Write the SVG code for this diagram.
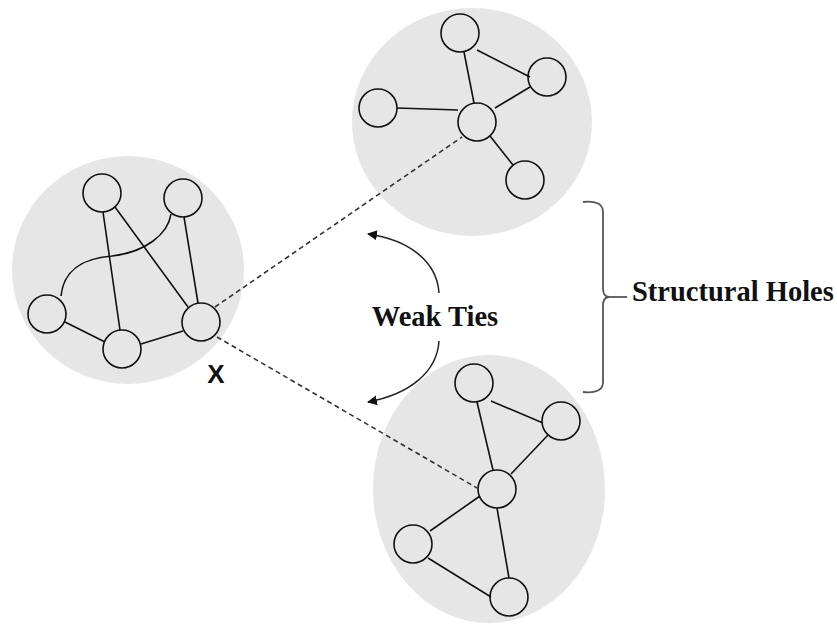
<svg xmlns="http://www.w3.org/2000/svg" width="837" height="625" viewBox="0 0 837 625">
<defs>
<style>
.cl{fill:#e6e6e6;stroke:none}
.nd{fill:none;stroke:#111;stroke-width:1.6}
.ed{fill:none;stroke:#111;stroke-width:1.6}
.wk{fill:none;stroke:#333;stroke-width:1.6;stroke-dasharray:5 3.5}
.arc{fill:none;stroke:#222;stroke-width:1.5}
.lbl{font-family:"Liberation Serif","Times New Roman",serif;font-weight:bold;font-size:28.5px;fill:#111}
</style>
<marker id="ah" viewBox="0 0 10 10" refX="9" refY="5" markerWidth="10" markerHeight="10" markerUnits="userSpaceOnUse" orient="auto">
<path d="M0,0 L10,5 L0,10 z" fill="#111"/>
</marker>
</defs>
<rect width="837" height="625" fill="#fff"/>
<g id="cluster-left">
<ellipse class="cl" cx="128" cy="270" rx="116" ry="114"/>
</g>
<g id="cluster-top">
<ellipse class="cl" cx="472" cy="122" rx="120" ry="114"/>
</g>
<g id="cluster-bottom">
<ellipse class="cl" cx="489" cy="489" rx="116" ry="134"/>
</g>
<g id="connectors">
<line class="ed" x1="103" y1="212" x2="120" y2="330"/>
<line class="ed" x1="115" y1="207" x2="188" y2="307"/>
<line class="ed" x1="184" y1="217" x2="198" y2="303"/>
<line class="ed" x1="65" y1="322" x2="105" y2="342"/>
<line class="ed" x1="141" y1="344" x2="183" y2="331"/>
<path class="ed" d="M61,296 C64,266 88,258 112,256 C146,252 168,234 171,214"/>
<line class="ed" x1="464" y1="52" x2="474" y2="103"/>
<line class="ed" x1="477" y1="50" x2="530" y2="77"/>
<line class="ed" x1="530" y1="87" x2="495" y2="108"/>
<line class="ed" x1="397" y1="108" x2="458" y2="110"/>
<line class="ed" x1="490" y1="136" x2="513" y2="165"/>
<line class="ed" x1="491" y1="401" x2="543" y2="423"/>
<line class="ed" x1="477" y1="402" x2="493" y2="470"/>
<line class="ed" x1="548" y1="435" x2="511" y2="474"/>
<line class="ed" x1="480" y1="496" x2="430" y2="531"/>
<line class="ed" x1="497" y1="508" x2="509" y2="578"/>
<line class="ed" x1="428" y1="558" x2="491" y2="597"/>
<line class="wk" x1="215" y1="307" x2="462" y2="137"/>
<line class="wk" x1="217" y1="337" x2="477" y2="488"/>
<path class="arc" d="M439,293 C437,262 410,240 368,234" marker-end="url(#ah)"/>
<path class="arc" d="M439,341 C437,372 410,394 368,402" marker-end="url(#ah)"/>
<path d="M583,202 Q603,200 603,212 L603,288 Q603,297 609,297 Q603,297 603,306 L603,382 Q603,394 583,392" fill="none" stroke="#555" stroke-width="1.8"/>
<line x1="607" y1="297" x2="627" y2="297" stroke="#555" stroke-width="1.8"/>
</g>
<g id="node-l1"><circle class="nd" cx="102" cy="193" r="19"/></g>
<g id="node-l2"><circle class="nd" cx="183" cy="198" r="19"/></g>
<g id="node-l3"><circle class="nd" cx="47" cy="314" r="19"/></g>
<g id="node-l4"><circle class="nd" cx="122" cy="349" r="19"/></g>
<g id="node-x"><circle class="nd" cx="201" cy="322" r="19"/></g>
<g id="node-t1"><circle class="nd" cx="460" cy="33" r="19"/></g>
<g id="node-t2"><circle class="nd" cx="547" cy="77" r="19"/></g>
<g id="node-t3"><circle class="nd" cx="378" cy="108" r="19"/></g>
<g id="node-thub"><circle class="nd" cx="477" cy="122" r="19"/></g>
<g id="node-t5"><circle class="nd" cx="525" cy="180" r="19"/></g>
<g id="node-b1"><circle class="nd" cx="474" cy="383" r="19"/></g>
<g id="node-b2"><circle class="nd" cx="561" cy="421" r="19"/></g>
<g id="node-bhub"><circle class="nd" cx="497" cy="489" r="19"/></g>
<g id="node-b4"><circle class="nd" cx="413" cy="544" r="19"/></g>
<g id="node-b5"><circle class="nd" cx="509" cy="597" r="19"/></g>
<g id="labels">
<text x="216" y="383" text-anchor="middle" font-family="Liberation Sans, Arial, sans-serif" font-weight="bold" font-size="26" fill="#111">X</text>
<text class="lbl" x="435" y="326" text-anchor="middle">Weak Ties</text>
<text class="lbl" x="632" y="301">Structural Holes</text>
</g>
</svg>
